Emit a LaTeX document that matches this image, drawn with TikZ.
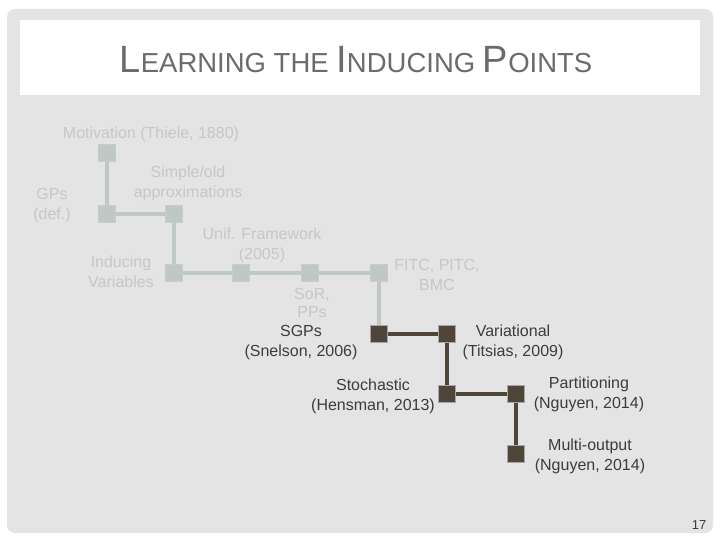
\documentclass[tikz,border=0pt]{standalone}
\usepackage{fontspec}
\setmainfont{Liberation Sans}
\usetikzlibrary{positioning}

\definecolor{slidegray}{HTML}{E4E4E4}
\definecolor{oldfill}{HTML}{C0C8C4}
\definecolor{oldtext}{HTML}{C2C9C6}
\definecolor{newfill}{HTML}{4F4539}
\definecolor{newtext}{HTML}{3C3C3C}
\definecolor{titletext}{HTML}{686D6B}

\tikzset{
  x=1pt,y=-1pt,
  oldbox/.style={rectangle, minimum size=17pt, inner sep=0pt, fill=oldfill, draw=oldfill!90!white},
  newbox/.style={rectangle, minimum size=17pt, inner sep=0pt, fill=newfill, draw=gray!70, line width=0.8pt},
  oldlink/.style={draw=oldfill, line width=4pt},
  newlink/.style={draw=newfill, line width=4pt},
  oldlabel/.style={text=oldtext, align=center, font=\fontsize{16}{20}\selectfont, inner sep=0pt},
  newlabel/.style={text=newtext, align=center, font=\fontsize{16}{20}\selectfont, inner sep=0pt}
}

\begin{document}
\begin{tikzpicture}
  \useasboundingbox (0,0) rectangle (720,540);
  \fill[white] (0,0) rectangle (720,540);
  \fill[slidegray, rounded corners=8pt] (7,9) rectangle (713,533);
  \fill[white] (20,20) rectangle (700,95);
  \node[text=titletext] (title) at (356,60)
    {\fontsize{38}{38}\selectfont L\fontsize{27.5}{27.5}\selectfont EARNING THE
     \fontsize{38}{38}\selectfont I\fontsize{27.5}{27.5}\selectfont NDUCING
     \fontsize{38}{38}\selectfont P\fontsize{27.5}{27.5}\selectfont OINTS};

  % old approaches
  \node[oldbox] (mot) at (107,153) {};
  \node[oldbox] (gps) at (107,214) {};
  \node[oldbox] (simple) at (174,214) {};
  \node[oldbox] (induc) at (174,273) {};
  \node[oldbox] (unif) at (241,273) {};
  \node[oldbox] (sor) at (310,273) {};
  \node[oldbox] (fitc) at (379,273) {};

  % newer approaches
  \node[newbox] (sgps) at (379,334) {};
  \node[newbox] (var) at (447,334) {};
  \node[newbox] (stoch) at (447,394) {};
  \node[newbox] (part) at (516,394) {};
  \node[newbox] (multi) at (516,454) {};

  \path[oldlink] (mot)--(gps) (gps)--(simple) (simple)--(induc)
    (induc)--(unif) (unif)--(sor) (sor)--(fitc) (fitc)--(sgps);
  \path[newlink] (sgps)--(var) (var)--(stoch) (stoch)--(part) (part)--(multi);

  \node[oldlabel] (motlab) at (151,134) {Motivation (Thiele, 1880)};
  \node[oldlabel] (gpslab) at (52,206) {GPs\\(def.)};
  \node[oldlabel] (simplelab) at (188,183) {Simple/old\\approximations};
  \node[oldlabel] (induclab) at (121,272) {Inducing\\Variables};
  \node[oldlabel] (uniflab) at (262,245) {Unif. Framework\\(2005)};
  \node[oldlabel, font=\fontsize{16}{17.5}\selectfont] (sorlab) at (312,303) {SoR,\\PPs};
  \node[oldlabel] (fitclab) at (437,275) {FITC, PITC,\\BMC};

  \node[newlabel] (sgpslab) at (301,343) {SGPs\\(Snelson, 2006)};
  \node[newlabel] (varlab) at (513,342) {Variational\\(Titsias, 2009)};
  \node[newlabel] (stochlab) at (373,396) {Stochastic\\(Hensman, 2013)};
  \node[newlabel] (partlab) at (589,394) {Partitioning\\(Nguyen, 2014)};
  \node[newlabel] (multilab) at (590,456) {Multi-output\\(Nguyen, 2014)};

  \node[text=newtext, font=\fontsize{13}{13}\selectfont] (page) at (699,525) {17};
\end{tikzpicture}
\end{document}
